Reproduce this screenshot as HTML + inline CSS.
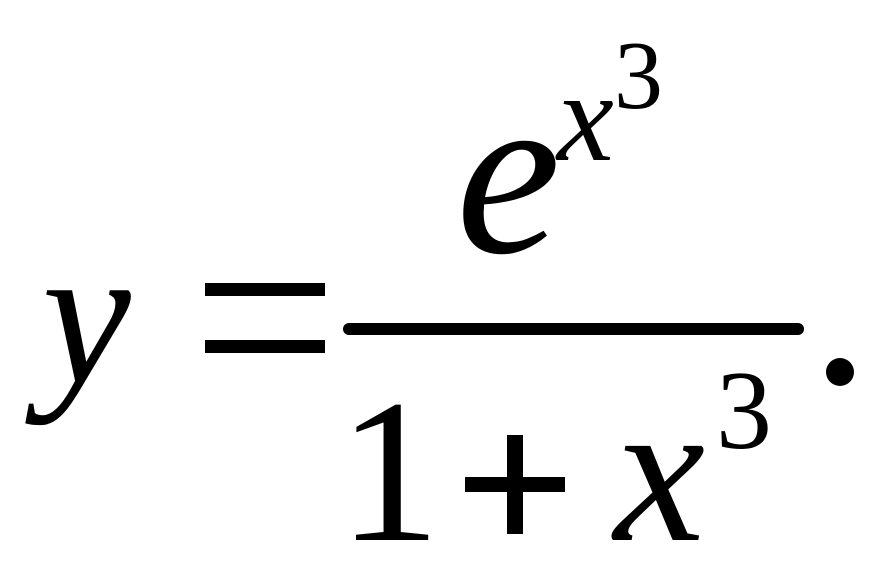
<!DOCTYPE html>
<html><head><meta charset="utf-8"><style>
html,body{margin:0;padding:0;background:#fff;width:875px;height:571px;overflow:hidden}
svg{display:block}
text{font-family:"Liberation Serif",serif;fill:#000}
</style></head><body>
<svg width="875" height="571" viewBox="0 0 875 571" xmlns="http://www.w3.org/2000/svg">
<text x="42" y="382" font-size="200" font-style="italic">y</text>
<rect x="205" y="283" width="120" height="13"/>
<rect x="205" y="340" width="120" height="13"/>
<line x1="349" y1="329" x2="798" y2="329" stroke="#000" stroke-width="12" stroke-linecap="round"/>
<text x="456" y="252" font-size="236" font-style="italic">e</text>
<text x="557" y="160" font-size="128" font-style="italic">x</text>
<text x="614" y="108" font-size="98">3</text>
<text x="338" y="540" font-size="205">1</text>
<rect x="465" y="477" width="100" height="15"/>
<rect x="507" y="435" width="16" height="99"/>
<text x="614" y="540" font-size="205" font-style="italic">x</text>
<text x="716" y="448" font-size="112">3</text>
<circle cx="840" cy="372" r="14"/>
</svg>
</body></html>
